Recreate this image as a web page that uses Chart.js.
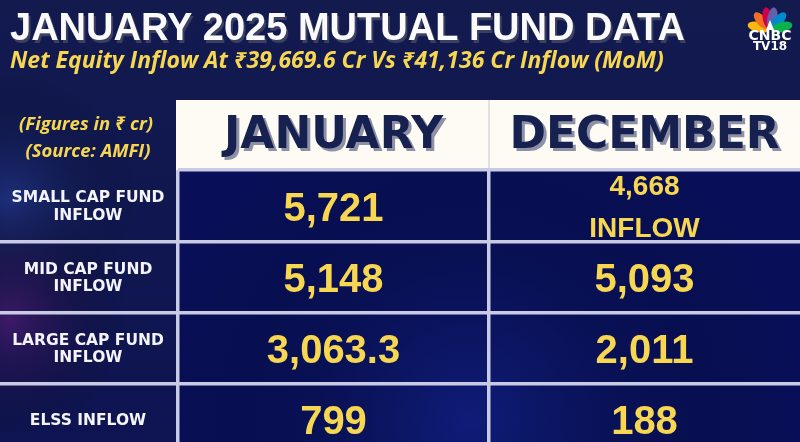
<!DOCTYPE html>
<html lang="en">
<head>
<meta charset="UTF-8">
<meta name="viewport" content="width=device-width, initial-scale=1.0">
<title>January 2025 Mutual Fund Data</title>
<script src="https://cdn.jsdelivr.net/npm/chart.js@4.4.1/dist/chart.umd.min.js"></script>
<style>
    html, body { margin: 0; padding: 0; overflow: hidden; background: #101850; }
    #wrap { width: 800px; height: 455px; }
</style>
</head>
<body>
<div id="wrap"><canvas id="tabla"></canvas></div>
<script>
// datos (cifras en ₹ cr, fuente AMFI)
const months = ['JANUARY', 'DECEMBER'];
const categories = [['SMALL CAP FUND', 'INFLOW'], ['MID CAP FUND', 'INFLOW'], ['LARGE CAP FUND', 'INFLOW'], ['ELSS INFLOW']];
const january = [5721, 5148, 3063.3, 799];
const december = [4668, 5093, 2011, 188];
const decemberNote = ['INFLOW', '', '', ''];
const titleText = 'JANUARY 2025 MUTUAL FUND DATA';
const subtitleText = 'Net Equity Inflow At ₹39,669.6 Cr Vs ₹41,136 Cr Inflow (MoM)';
const notes = ['(Figures in ₹ cr)', '(Source: AMFI)'];

const rowKeys = categories.map(c => c.join(' '));
const lineColor = '#c9cbe4';
const yellow = '#f7d752';
const numFont = size => 'bold ' + size + 'px "Liberation Sans", Arial, sans-serif';

function fmt(v) {
    return v.toLocaleString('en-US', { maximumFractionDigits: 1 });
}

function glow(ctx, x, y, r, color) {
    const g = ctx.createRadialGradient(x, y, 0, x, y, r);
    g.addColorStop(0, color);
    g.addColorStop(1, 'rgba(0,0,0,0)');
    ctx.fillStyle = g;
    ctx.fillRect(x - r, y - r, r * 2, r * 2);
}

// fondo, cabecera y textos
const tablePlugin = {
    id: 'tablePlugin',
    beforeDraw(chart) {
        const { ctx, chartArea: a, scales: { x } } = chart;
        ctx.save();
        let g = ctx.createLinearGradient(0, 0, 0, chart.height);
        g.addColorStop(0, '#121a4e');
        g.addColorStop(1, '#0e1452');
        ctx.fillStyle = g;
        ctx.fillRect(0, 0, chart.width, chart.height);
        glow(ctx, 10, 200, 130, 'rgba(45,75,175,0.45)');
        glow(ctx, 10, 320, 120, 'rgba(115,30,135,0.45)');

        // celdas
        ctx.fillStyle = '#080f58';
        ctx.fillRect(a.left, a.top, a.right - a.left, a.bottom - a.top);
        ctx.save();
        ctx.beginPath();
        ctx.rect(a.left, a.top, a.right - a.left, a.bottom - a.top);
        ctx.clip();
        glow(ctx, 470, 420, 330, 'rgba(20,40,150,0.55)');
        ctx.restore();

        // banda blanca de meses
        ctx.fillStyle = '#fdfbf3';
        ctx.fillRect(a.left - 2, x.top, a.right - a.left + 2, x.bottom - x.top);
        const mid = (x.getPixelForValue(0) + x.getPixelForValue(1)) / 2;
        ctx.strokeStyle = '#d8d8d8';
        ctx.lineWidth = 1.5;
        ctx.beginPath();
        ctx.moveTo(mid, x.top);
        ctx.lineTo(mid, x.bottom);
        ctx.stroke();

        ctx.font = 'bold 44px "DejaVu Sans", sans-serif';
        ctx.textAlign = 'center';
        ctx.textBaseline = 'alphabetic';
        const base = x.bottom - 22;
        months.forEach((m, i) => {
            const px = x.getPixelForValue(i);
            ctx.fillStyle = '#8e91a6';
            ctx.fillText(m, px + 3, base + 3);
            ctx.fillStyle = '#16214f';
            ctx.fillText(m, px, base);
        });
        ctx.restore();
    },
    afterDatasetsDraw(chart) {
        const ctx = chart.ctx;
        ctx.save();
        ctx.fillStyle = yellow;
        ctx.textAlign = 'center';
        ctx.textBaseline = 'alphabetic';
        chart.data.datasets.forEach((ds, d) => {
            chart.getDatasetMeta(d).data.forEach((pt, i) => {
                const note = ds.notes[i];
                if (note) {
                    ctx.font = numFont(28);
                    ctx.fillText(fmt(ds.values[i]), pt.x, pt.y - 10.5);
                    ctx.fillText(note, pt.x, pt.y + 31.5);
                } else {
                    ctx.font = numFont(40);
                    ctx.fillText(fmt(ds.values[i]), pt.x, pt.y + 15);
                }
            });
        });
        ctx.restore();
    },
    afterDraw(chart) {
        const { ctx, scales: { y } } = chart;
        ctx.save();
        ctx.textBaseline = 'alphabetic';

        // titulo
        ctx.textAlign = 'left';
        ctx.font = 'bold 38px "Liberation Sans", sans-serif';
        ctx.fillStyle = '#3c4060';
        ctx.fillText(titleText, 12, 43);
        ctx.fillStyle = '#fafafa';
        ctx.fillText(titleText, 10, 40);
        ctx.font = 'italic bold 23px "Open Sans", "Noto Sans", sans-serif';
        ctx.fillStyle = yellow;
        ctx.fillText(subtitleText, 10, 68);

        // notas
        ctx.textAlign = 'center';
        ctx.font = 'italic bold 18.5px "Open Sans", "Noto Sans", sans-serif';
        ctx.fillText(notes[0], 86, 130);
        ctx.fillText(notes[1], 88, 157);

        // categorias
        ctx.fillStyle = '#f4f4f8';
        ctx.font = 'bold 15.5px "DejaVu Sans", sans-serif';
        categories.forEach((lines, i) => {
            const cy = y.getPixelForValue(rowKeys[i]);
            const lh = 17.5;
            const start = cy - (lines.length - 1) * lh / 2;
            lines.forEach((t, k) => ctx.fillText(t, 88, start + k * lh + 5.5));
        });

        // logo
        const bx = 770, by = 30;
        const cols = ['#fcb711', '#f37021', '#cc004c', '#6460aa', '#0089d0', '#0db14b'];
        const angs = [166, 132, 101, 79, 48, 14];
        cols.forEach((c, k) => {
            const r = angs[k] * Math.PI / 180;
            ctx.save();
            ctx.translate(bx + Math.cos(r) * 12, by - Math.sin(r) * 12);
            ctx.rotate(-r + Math.PI / 2);
            ctx.fillStyle = c;
            ctx.beginPath();
            ctx.ellipse(0, 0, 5, 11, 0, 0, Math.PI * 2);
            ctx.fill();
            ctx.restore();
        });
        ctx.fillStyle = '#ffffff';
        ctx.beginPath();
        ctx.moveTo(bx, by - 10);
        ctx.lineTo(bx - 4, by);
        ctx.lineTo(bx + 4, by);
        ctx.fill();
        ctx.font = 'bold 14px "DejaVu Sans", sans-serif';
        ctx.fillText('CNBC', bx, 40);
        ctx.font = 'bold 12px "DejaVu Sans", sans-serif';
        ctx.fillText('TV18', bx, 50);
        ctx.restore();
    }
};

const ctx = document.getElementById('tabla').getContext('2d');
const tabla = new Chart(ctx, {
    type: 'line',
    data: {
        datasets: [{
            label: 'January',
            data: january.map((v, i) => ({ x: months[0], y: rowKeys[i] })),
            values: january,
            notes: ['', '', '', ''],
            showLine: false,
            pointRadius: 0,
            pointHoverRadius: 0
        }, {
            label: 'December',
            data: december.map((v, i) => ({ x: months[1], y: rowKeys[i] })),
            values: december,
            notes: decemberNote,
            showLine: false,
            pointRadius: 0,
            pointHoverRadius: 0
        }]
    },
    options: {
        responsive: true,
        maintainAspectRatio: false,
        animation: false,
        events: [],
        layout: { padding: { top: 100, left: 0, right: 0, bottom: 0 } },
        plugins: { legend: { display: false }, tooltip: { enabled: false } },
        scales: {
            x: {
                type: 'category',
                labels: months,
                position: 'top',
                offset: true,
                grid: {
                    offset: true,
                    drawTicks: false,
                    lineWidth: 3.5,
                    color: c => c.index === undefined ? 'transparent' : lineColor
                },
                border: { display: false },
                ticks: { display: false },
                afterFit: s => { s.height = 70; }
            },
            y: {
                type: 'category',
                labels: rowKeys,
                offset: true,
                grid: {
                    offset: true,
                    drawTicks: true,
                    tickLength: 178,
                    lineWidth: 3.5,
                    tickWidth: 3.5,
                    color: lineColor,
                    tickColor: c => c.index === 0 ? 'transparent' : lineColor
                },
                border: { display: false },
                ticks: { display: false },
                afterFit: s => { s.width = 178; }
            }
        }
    },
    plugins: [tablePlugin]
});
</script>
</body>
</html>
